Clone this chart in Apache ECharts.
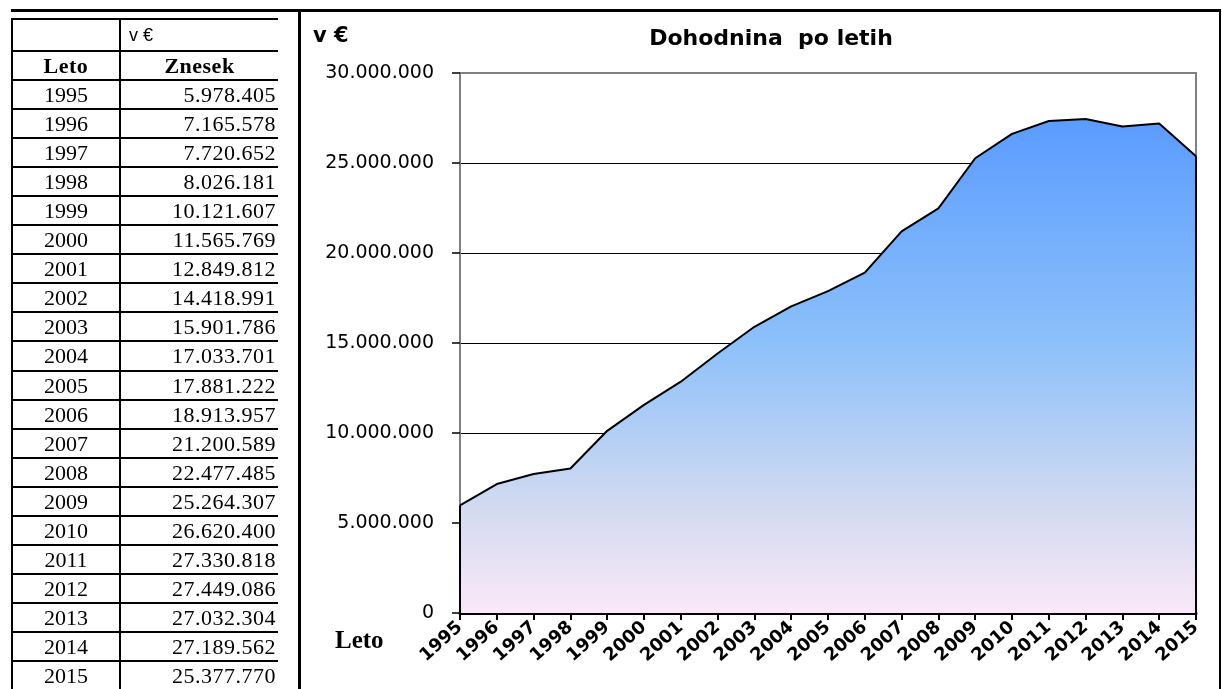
<!DOCTYPE html>
<html>
<head>
<meta charset="utf-8">
<title>Dohodnina po letih</title>
<script src="https://cdn.jsdelivr.net/npm/echarts@6/dist/echarts.min.js"></script>
<style>
    body { margin: 0; background: #fff; }
    #page { position: relative; width: 1222px; height: 689px; overflow: hidden; }
    #chart { position: absolute; left: 0; top: 0; width: 1222px; height: 689px; }
    .ln { position: absolute; background: #000; }
    .cell { position: absolute; font-family: 'Liberation Serif', serif; font-size: 22px; letter-spacing: 0.5px; color: #000; white-space: nowrap; }
</style>
</head>
<body>
<div id="page">
    <div id="chart"></div>
    <div id="table"></div>
    <!-- okvir -->
    <div class="ln" style="left:11px;top:9px;width:1210px;height:3px;"></div>
    <div class="ln" style="left:1219px;top:9px;width:2px;height:680px;"></div>
    <div class="ln" style="left:298px;top:9px;width:3px;height:680px;"></div>
</div>
<script type="text/javascript">
    // podatki
    var years = ['1995','1996','1997','1998','1999','2000','2001','2002','2003','2004','2005',
                 '2006','2007','2008','2009','2010','2011','2012','2013','2014','2015'];
    var values = [5978405, 7165578, 7720652, 8026181, 10121607, 11565769, 12849812, 14418991,
                  15901786, 17033701, 17881222, 18913957, 21200589, 22477485, 25264307, 26620400,
                  27330818, 27449086, 27032304, 27189562, 25377770];
    var unitLabel = 'v €';
    var yearHead = 'Leto';
    var valueHead = 'Znesek';
    var chartTitle = 'Dohodnina  po letih';
    var yTicks = [0, 5000000, 10000000, 15000000, 20000000, 25000000, 30000000];

    function fmt(n) {
        return String(n).replace(/\B(?=(\d{3})+(?!\d))/g, '.');
    }

    // tabela na levi
    var tbl = document.getElementById('table');
    var html = '';
    var lines = [18, 50, 79];      // vodoravne črte
    for (var i = 0; i < years.length; i++) {
        lines.push(Math.round(79 + (i + 1) * 29.05));
    }
    for (var k = 0; k < lines.length; k++) {
        html += '<div class="ln" style="left:11px;top:' + lines[k] + 'px;width:267px;height:2px;"></div>';
    }
    html += '<div class="ln" style="left:11px;top:18px;width:2px;height:680px;"></div>';
    html += '<div class="ln" style="left:119px;top:18px;width:2px;height:680px;"></div>';

    function rowText(top, bottom, txt, left, width, align, extra) {
        return '<div class="cell" style="left:' + left + 'px;width:' + width + 'px;top:' + top +
            'px;height:' + (bottom - top) + 'px;line-height:' + (bottom - top) + 'px;text-align:' + align + ';' +
            (extra || '') + '">' + txt + '</div>';
    }
    html += rowText(20, 50, unitLabel, 129, 140, 'left', "font-family:'Liberation Sans',sans-serif;font-size:18px;letter-spacing:0;");
    html += rowText(52, 79, yearHead, 13, 106, 'center', 'font-weight:bold;');
    html += rowText(52, 79, valueHead, 121, 157, 'center', 'font-weight:bold;');
    for (var r = 0; r < years.length; r++) {
        var t = lines[r + 2] + 2, b = lines[r + 3];
        html += rowText(t, b, years[r], 13, 106, 'center', 'letter-spacing:0;');
        html += rowText(t, b, fmt(values[r]), 121, 155, 'right');
    }
    tbl.innerHTML = html;

    // graf
    var dom = document.getElementById('chart');
    var myChart = echarts.init(dom);
    var last = years.length - 1;
    var option = {
        animation: false,
        title: {
            text: chartTitle,
            left: 771,
            top: 28,
            textAlign: 'center',
            padding: 0,
            textStyle: { fontFamily: 'DejaVu Sans', fontWeight: 'bold', fontSize: 22, color: '#000' }
        },
        graphic: [
            {
                type: 'text', left: 313, top: 26,
                style: { text: unitLabel, font: 'bold 21px "DejaVu Sans"', fill: '#000' }
            },
            {
                type: 'text', left: 335, top: 629,
                style: { text: yearHead, font: 'bold 25px "Liberation Serif"', fill: '#000' }
            }
        ],
        grid: {
            left: 460,
            right: 26,
            top: 73,
            bottom: 76,
            show: true,
            borderColor: '#808080',
            borderWidth: 2,
            backgroundColor: 'transparent'
        },
        xAxis: {
            type: 'category',
            data: years,
            boundaryGap: false,
            axisLine: { lineStyle: { color: '#000', width: 3 } },
            axisTick: { show: true, length: 7, lineStyle: { color: '#000', width: 2 } },
            axisLabel: {
                interval: 0,
                rotate: 42,
                margin: 12,
                color: '#000',
                fontFamily: 'DejaVu Sans',
                fontWeight: 'bold',
                fontSize: 18
            },
            splitLine: { show: false }
        },
        yAxis: {
            type: 'value',
            min: yTicks[0],
            max: yTicks[yTicks.length - 1],
            interval: yTicks[1] - yTicks[0],
            axisLine: { show: true, lineStyle: { color: '#808080', width: 2 } },
            axisTick: { show: true, length: 8, lineStyle: { color: '#000', width: 1.5 } },
            axisLabel: {
                margin: 26,
                color: '#000',
                fontFamily: 'DejaVu Sans',
                fontSize: 19,
                formatter: function (v) { return fmt(v); }
            },
            splitLine: {
                show: true,
                showMinLine: false,
                showMaxLine: false,
                lineStyle: { color: '#000', width: 1 }
            }
        },
        series: [{
            type: 'line',
            data: values,
            symbol: 'none',
            lineStyle: { color: '#000', width: 2 },
            areaStyle: {
                opacity: 1,
                color: new echarts.graphic.LinearGradient(0, 0, 0, 1, [
                    { offset: 0, color: '#5a9bff' },
                    { offset: 0.45, color: '#8cc0fa' },
                    { offset: 0.8, color: '#d5dbf0' },
                    { offset: 1, color: '#fae8f8' }
                ])
            },
            markLine: {
                silent: true,
                symbol: 'none',
                label: { show: false },
                lineStyle: { color: '#000', width: 2, type: 'solid' },
                data: [
                    [{ coord: [years[0], 0] }, { coord: [years[0], values[0]] }],
                    [{ coord: [years[last], 0] }, { coord: [years[last], values[last]] }]
                ]
            }
        }]
    };
    myChart.setOption(option);
</script>
</body>
</html>
